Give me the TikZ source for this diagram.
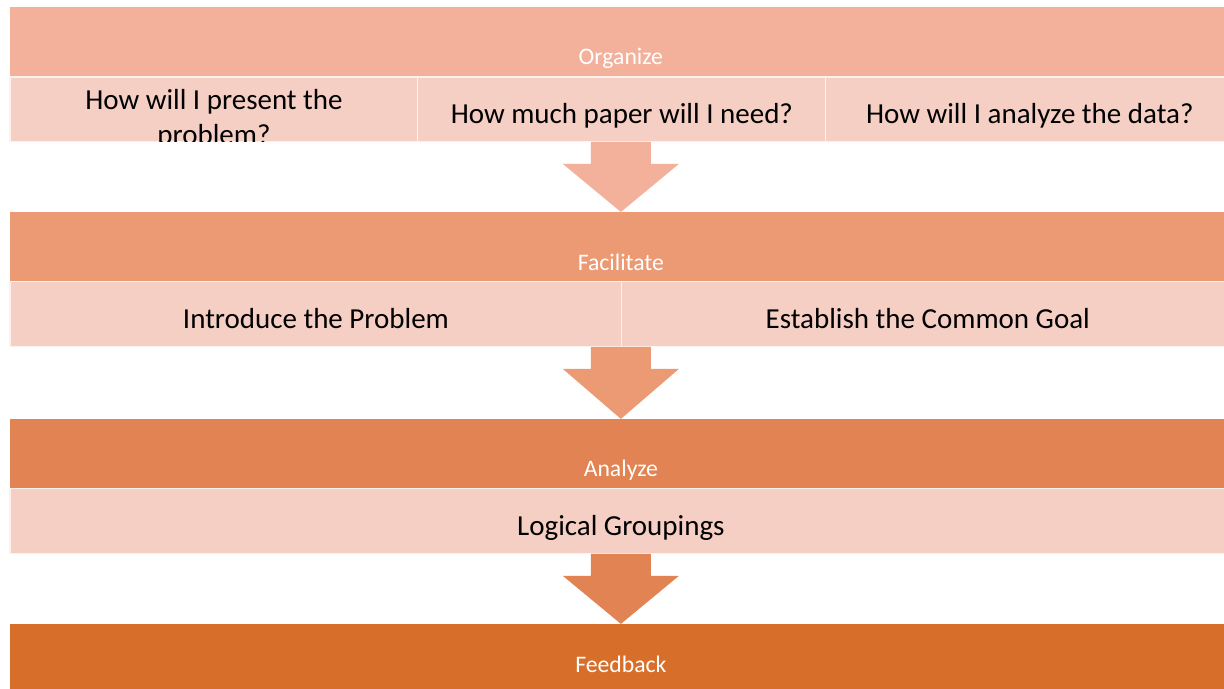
\documentclass[tikz,border=0pt]{standalone}
\usepackage{fontspec}
\setmainfont{Carlito}
\usetikzlibrary{positioning,calc}

\definecolor{orgcol}{RGB}{243,177,155}
\definecolor{faccol}{RGB}{235,154,116}
\definecolor{ancol}{RGB}{225,131,82}
\definecolor{fbcol}{RGB}{215,111,43}
\definecolor{rowcol}{RGB}{246,207,196}

\tikzset{
	band/.style={fill=#1, draw=none, minimum width=24.44cm, minimum height=1.4cm, outer sep=0pt, inner sep=0pt},
	cell/.style={fill=rowcol, draw=white!70!rowcol, line width=0.6pt, minimum height=1.3cm, outer sep=0pt, inner sep=0pt,
		text height=16.4pt, text depth=0pt, font=\fontsize{16.5}{17}\selectfont},
	bandlabel/.style={text=white, font=\fontsize{13.5}{15}\selectfont, anchor=base, inner sep=0pt},
}

% block arrow from the row above down to the next band
\newcommand{\flowarrow}[3]{%
	\fill[#1] ($(#2)+(-30,0)$) -- ($(#2)+(30,0)$) -- ($(#2)+(30,22)$) -- ($(#2)+(58,22)$)
		-- (#3.north) -- ($(#2)+(-58,22)$) -- ($(#2)+(-30,22)$) -- cycle;}

\begin{document}
\begin{tikzpicture}[x=0.02cm, y=-0.02cm]
	\useasboundingbox[fill=white] (0,0) rectangle (1224,689);
	\clip (0,0) rectangle (1224,689);

	% Organize
	\node[band=orgcol, anchor=north west] (orgband) at (10,7) {};
	\node[bandlabel] (orglabel) at ($(orgband.south)+(0,-12)$) {Organize};
	\node[cell, minimum width=8.16cm, anchor=north west] (orgc1) at (orgband.south west) {};
	\node[cell, minimum width=8.16cm, right=0cm of orgc1] (orgc2) {How much paper will I need?};
	\node[cell, minimum width=8.16cm, right=0cm of orgc2] (orgc3) {How will I analyze the data?};
	\begin{scope}
		\clip (orgc1.south west) rectangle (orgc1.north east);
		\node[align=center, inner sep=0pt, font=\fontsize{16.5}{20}\selectfont, anchor=north] (orgq1) at ($(orgc1.north)+(0,12)$) {How will I present the\\problem?};
	\end{scope}

	% Facilitate
	\node[band=faccol, below=1.4cm of orgc1.south west, anchor=north west] (facband) {};
	\node[bandlabel] (faclabel) at ($(facband.south)+(0,-11)$) {Facilitate};
	\node[cell, minimum width=12.24cm, anchor=north west] (facc1) at (facband.south west) {Introduce the Problem};
	\node[cell, minimum width=12.24cm, right=0cm of facc1] (facc2) {Establish the Common Goal};

	% Analyze
	\node[band=ancol, below=1.44cm of facc1.south west, anchor=north west] (anband) {};
	\node[bandlabel] (anlabel) at ($(anband.south)+(0,-12)$) {Analyze};
	\node[cell, minimum width=24.44cm, anchor=north west] (anc1) at (anband.south west) {Logical Groupings};

	% Feedback
	\node[band=fbcol, below=1.4cm of anc1.south west, anchor=north west] (fbband) {};
	\node[bandlabel] (fblabel) at ($(fbband.south)+(0,-21)$) {Feedback};

	% arrows
	\flowarrow{orgcol}{orgband.south |- orgc1.south}{facband}
	\flowarrow{faccol}{facband.south |- facc1.south}{anband}
	\flowarrow{ancol}{anc1.south}{fbband}
\end{tikzpicture}
\end{document}
